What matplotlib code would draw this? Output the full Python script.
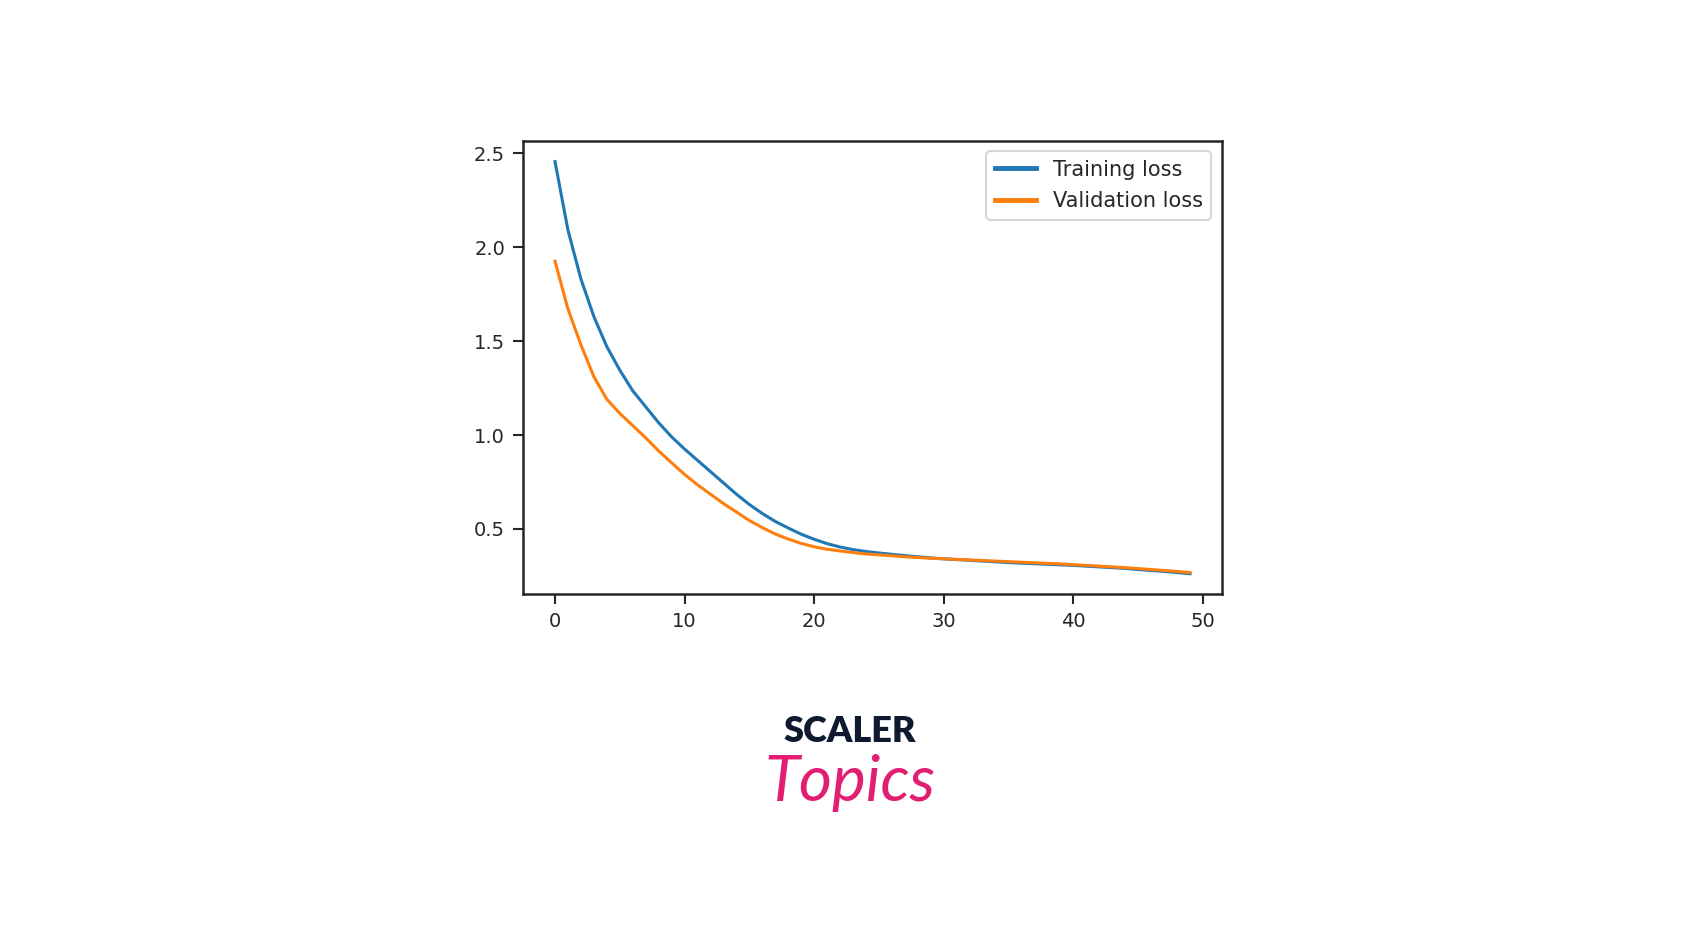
import matplotlib
matplotlib.use("Agg")
import matplotlib.pyplot as plt

epochs = list(range(50))
training_loss = [2.455, 2.09, 1.83, 1.63, 1.47, 1.345, 1.235, 1.15, 1.065, 0.99,
                 0.925, 0.865, 0.805, 0.745, 0.685, 0.63, 0.582, 0.54, 0.505, 0.472,
                 0.445, 0.422, 0.404, 0.39, 0.38, 0.372, 0.365, 0.358, 0.352, 0.346,
                 0.341, 0.337, 0.333, 0.329, 0.325, 0.321, 0.318, 0.315, 0.312, 0.309,
                 0.306, 0.302, 0.298, 0.294, 0.29, 0.284, 0.279, 0.274, 0.268, 0.262]
validation_loss = [1.925, 1.67, 1.48, 1.31, 1.19, 1.115, 1.05, 0.985, 0.915, 0.852,
                   0.79, 0.735, 0.685, 0.635, 0.59, 0.545, 0.507, 0.473, 0.446, 0.423,
                   0.405, 0.392, 0.383, 0.374, 0.367, 0.362, 0.357, 0.352, 0.348, 0.344,
                   0.341, 0.338, 0.335, 0.332, 0.329, 0.326, 0.323, 0.32, 0.317, 0.314,
                   0.31, 0.306, 0.302, 0.298, 0.294, 0.289, 0.284, 0.279, 0.274, 0.268]
series_labels = ["Training loss", "Validation loss"]
x_ticks = [0, 10, 20, 30, 40, 50]
y_ticks = [0.5, 1.0, 1.5, 2.0, 2.5]

plt.rcParams['font.family'] = ['DejaVu Sans']
fig = plt.figure(figsize=(17, 9.35), dpi=100)
ax = fig.add_axes([0.3078, 0.3644, 0.4109, 0.4848])

ax.plot(epochs, training_loss, color="#1f77b4", lw=2.2, label=series_labels[0])
ax.plot(epochs, validation_loss, color="#ff7f0e", lw=2.2, label=series_labels[1])

ax.set_xticks(x_ticks)
ax.set_yticks(y_ticks)
ax.tick_params(labelsize=14, length=7, width=1.5, colors="#262626", pad=6)
for s in ax.spines.values():
    s.set_linewidth(1.8)
    s.set_color("#262626")

leg = ax.legend(loc="upper right", fontsize=15, frameon=True, handlelength=2.0,
                borderaxespad=0.5, labelspacing=0.55)
leg.get_frame().set_edgecolor("#cccccc")
leg.get_frame().set_linewidth(1.5)
for t in leg.get_texts():
    t.set_color("#262626")
for h in leg.get_lines():
    h.set_linewidth(3.5)

fig.text(0.5, 0.218, "SCALER", ha="center", va="center", fontsize=26,
         fontweight="heavy", color="#0f1a2e", family="Lato")
fig.text(0.5, 0.163, "Topics", ha="center", va="center", fontsize=46,
         style="italic", color="#e21e73", family="Lato")

fig.savefig("out.png", dpi=100, facecolor="white")
